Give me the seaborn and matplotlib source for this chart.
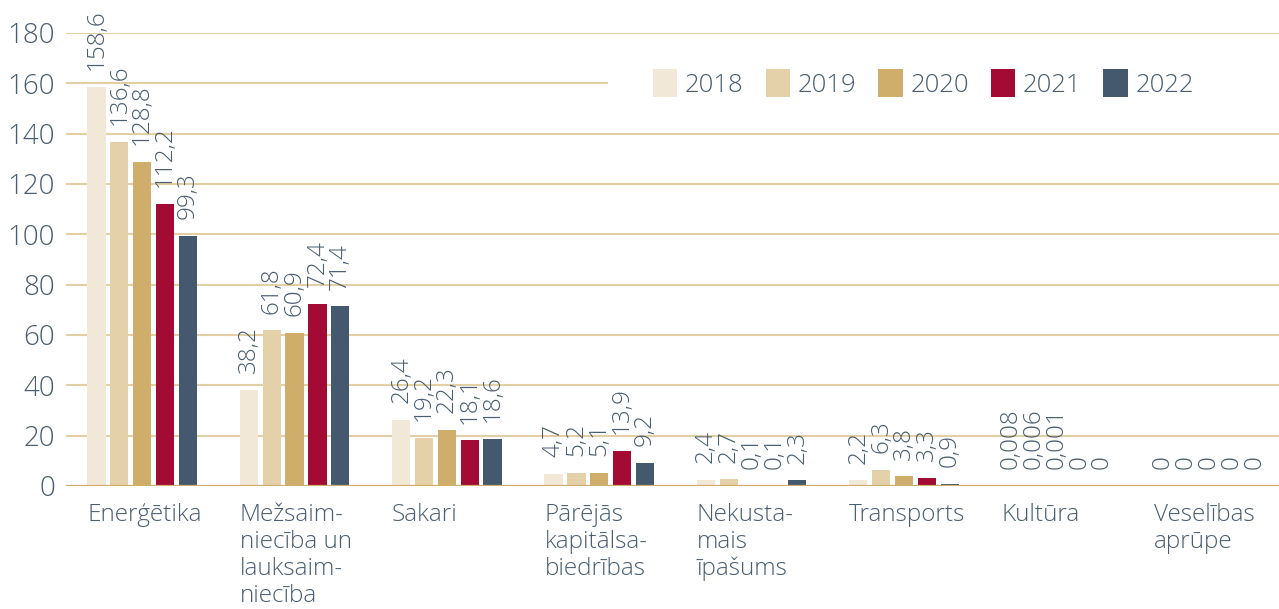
import numpy as np
import pandas as pd
import matplotlib.pyplot as plt
from matplotlib.patches import Patch, Rectangle
import seaborn as sns

categories = [
    "Enerģētika",
    "Mežsaim-\nniecība un\nlauksaim-\nniecība",
    "Sakari",
    "Pārējās\nkapitālsa-\nbiedrības",
    "Nekusta-\nmais\nīpašums",
    "Transports",
    "Kultūra",
    "Veselības\naprūpe",
]
years = ["2018", "2019", "2020", "2021", "2022"]
v2018 = [158.6, 38.2, 26.4, 4.7, 2.4, 2.2, 0.008, 0]
v2019 = [136.6, 61.8, 19.2, 5.2, 2.7, 6.3, 0.006, 0]
v2020 = [128.8, 60.9, 22.3, 5.1, 0.1, 3.8, 0.001, 0]
v2021 = [112.2, 72.4, 18.1, 13.9, 0.1, 3.3, 0, 0]
v2022 = [99.3, 71.4, 18.6, 9.2, 2.3, 0.9, 0, 0]
y_ticks = [0, 20, 40, 60, 80, 100, 120, 140, 160, 180]

colors = ["#f1e8d7", "#e4d1a9", "#cfae6b", "#a30a34", "#44596e"]
text_color = "#4a5d72"
grid_color = "#e2d0a4"

series = [v2018, v2019, v2020, v2021, v2022]
df = pd.DataFrame(
    [(c, y, v) for y, vals in zip(years, series) for c, v in zip(categories, vals)],
    columns=["category", "year", "value"],
)

sns.set_style("white")
plt.rcParams["font.family"] = ["Open Sans", "DejaVu Sans"]
plt.rcParams["font.weight"] = "light"

fig = plt.figure(figsize=(12.79, 6.09), dpi=100)
ax = fig.add_axes([0.0516, 0.202, 0.953, 0.744])

sns.barplot(
    data=df, x="category", y="value", hue="year", order=categories,
    hue_order=years, palette=colors, saturation=1, width=0.75, gap=0.2,
    linewidth=0, legend=False, ax=ax, zorder=2,
)


def fmt(v):
    return f"{v:g}".replace(".", ",")


for cont, vals in zip(ax.containers, series):
    ax.bar_label(cont, labels=[fmt(v) for v in vals], rotation=90, padding=12,
                 color=text_color, fontsize=17.5)

ax.set_xlim(-0.5, len(categories) - 0.5)
ax.set_ylim(0, 180)
ax.set_yticks(y_ticks)
ax.set_yticklabels([str(t) for t in y_ticks], fontsize=20, color=text_color)
ax.set_xticks(np.arange(len(categories)) - 0.36)
ax.set_xticklabels(categories, ha="left", va="top", fontsize=17.5,
                   color=text_color, linespacing=1.17)
ax.tick_params(axis="both", length=0)
ax.tick_params(axis="x", pad=12)
ax.tick_params(axis="y", pad=8)
ax.set_xlabel("")
ax.set_ylabel("")
for s in ax.spines.values():
    s.set_visible(False)

ax.set_axisbelow(True)
ax.yaxis.grid(True, color=grid_color, lw=1.5)
ax.axhline(0, color="#cfae6b", lw=1.6, zorder=3)

ax.add_patch(Rectangle((0.475, 0.80), 0.6, 0.13, transform=fig.transFigure,
                       facecolor="white", edgecolor="none", zorder=1))

handles = [Patch(facecolor=c, edgecolor="none") for c in colors]
ax.legend(handles, years, loc="center", bbox_to_anchor=(0.722, 0.863),
          bbox_transform=fig.transFigure, ncol=5, frameon=False,
          fontsize=18.5, labelcolor=text_color, handlelength=0.95,
          handleheight=1.3, handletextpad=0.3, columnspacing=0.85)

fig.savefig("out.png", dpi=100)
